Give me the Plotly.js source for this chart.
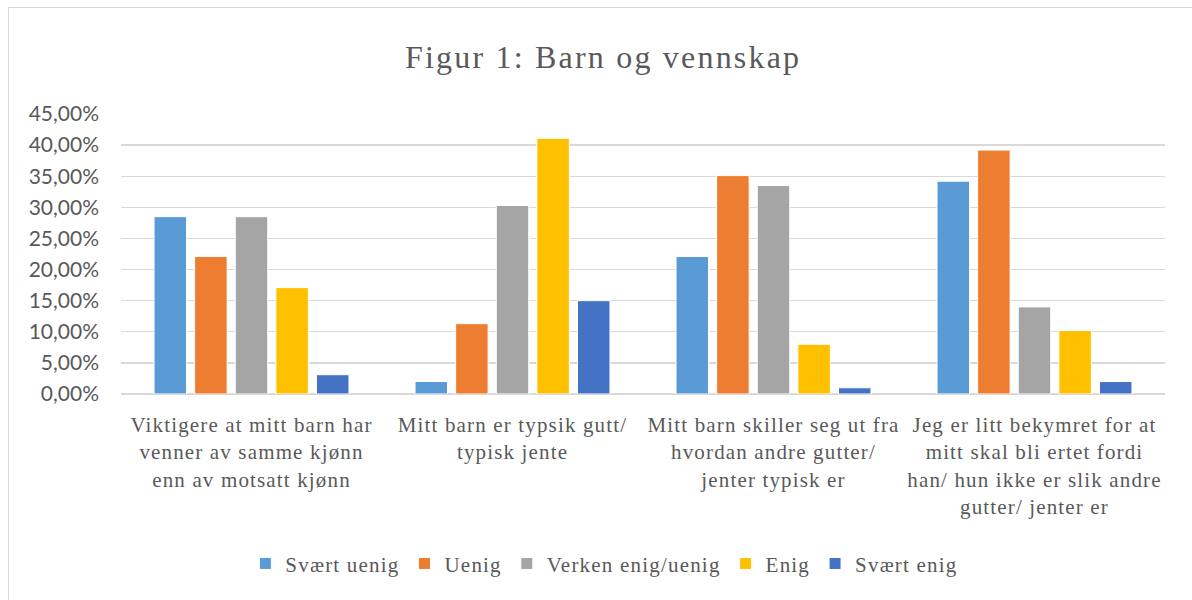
<!DOCTYPE html>
<html>
<head>
<meta charset="utf-8">
<script src="https://cdn.plot.ly/plotly-3.0.1.min.js"></script>
<style>
  html, body { margin: 0; padding: 0; background: #fff; }
  #chart { position: absolute; left: 0; top: 0; width: 1192px; height: 600px; }
  #frame { position: absolute; left: 8px; top: 7px; width: 1300px; height: 700px;
           border-left: 1px solid #d9d9d9; border-top: 1px solid #d9d9d9; pointer-events: none; }
  text.gtitle { letter-spacing: 2.2px; }
  text.legendtext { letter-spacing: 1.2px; }
  .xtick text { letter-spacing: 1.15px; }
</style>
</head>
<body>
<div id="chart"></div>
<div id="frame"></div>
<script>
const categories = [
  "Viktigere at mitt barn har<br>venner av samme kjønn<br>enn av motsatt kjønn",
  "Mitt barn er typsik gutt/<br>typisk jente",
  "Mitt barn skiller seg ut fra<br>hvordan andre gutter/<br>jenter typisk er",
  "Jeg er litt bekymret for at<br>mitt skal bli ertet fordi<br>han/ hun ikke er slik andre<br>gutter/ jenter er"
];
const seriesNames = ["Svært uenig", "Uenig", "Verken enig/uenig", "Enig", "Svært enig"];
const svaertUenig = [0.285, 0.020, 0.221, 0.342];
const uenig       = [0.221, 0.113, 0.351, 0.392];
const verken      = [0.285, 0.303, 0.335, 0.140];
const enig        = [0.171, 0.411, 0.080, 0.102];
const svaertEnig  = [0.031, 0.150, 0.010, 0.020];
const colors = ["#5B9BD5", "#ED7D31", "#A5A5A5", "#FFC000", "#4472C4"];
const yTicks = [0, 0.05, 0.10, 0.15, 0.20, 0.25, 0.30, 0.35, 0.40, 0.45];

const values = [svaertUenig, uenig, verken, enig, svaertEnig];
const traces = values.map((v, i) => ({
  type: "bar",
  name: seriesNames[i],
  x: categories,
  y: v,
  marker: { color: colors[i], line: { color: "#ffffff", width: 1 } },
  hoverinfo: "skip"
}));

const layout = {
  width: 1192,
  height: 600,
  margin: { l: 121, r: 27, t: 114, b: 206, pad: 0 },
  paper_bgcolor: "rgba(0,0,0,0)",
  plot_bgcolor: "rgba(0,0,0,0)",
  separators: ", ",
  barmode: "group",
  bargap: 0.222,
  bargroupgap: 0.2,
  showlegend: true,
  title: {
    text: "Figur 1: Barn og vennskap",
    font: { family: "Liberation Serif, Times New Roman, serif", size: 32, color: "#595959" },
    xref: "container", x: 0.506, xanchor: "center",
    yref: "container", y: 1 - 57/600, yanchor: "middle"
  },
  xaxis: {
    type: "category",
    showgrid: false,
    showline: false,
    zeroline: false,
    ticks: "",
    ticklabelstandoff: 16,
    tickangle: 0,
    tickfont: { family: "Liberation Serif, Times New Roman, serif", size: 21, color: "#595959" }
  },
  yaxis: {
    range: [0, 0.45],
    tickvals: yTicks,
    tickformat: ".2%",
    showgrid: true,
    gridcolor: "#d9d9d9",
    gridwidth: 1.3,
    zeroline: true,
    zerolinecolor: "#d9d9d9",
    zerolinewidth: 1.5,
    showline: false,
    ticks: "",
    ticklabelstandoff: 21,
    tickfont: { family: "Lato, Open Sans, sans-serif", size: 21, color: "#595959" }
  },
  legend: {
    orientation: "h",
    x: 0.463, xanchor: "center",
    y: (393.5 - 563) / 279.5, yanchor: "middle",
    font: { family: "Liberation Serif, Times New Roman, serif", size: 21, color: "#595959" },
    itemwidth: 30,
    traceorder: "normal"
  }
};

Plotly.newPlot("chart", traces, layout, { displayModeBar: false, staticPlot: true });
</script>
</body>
</html>
